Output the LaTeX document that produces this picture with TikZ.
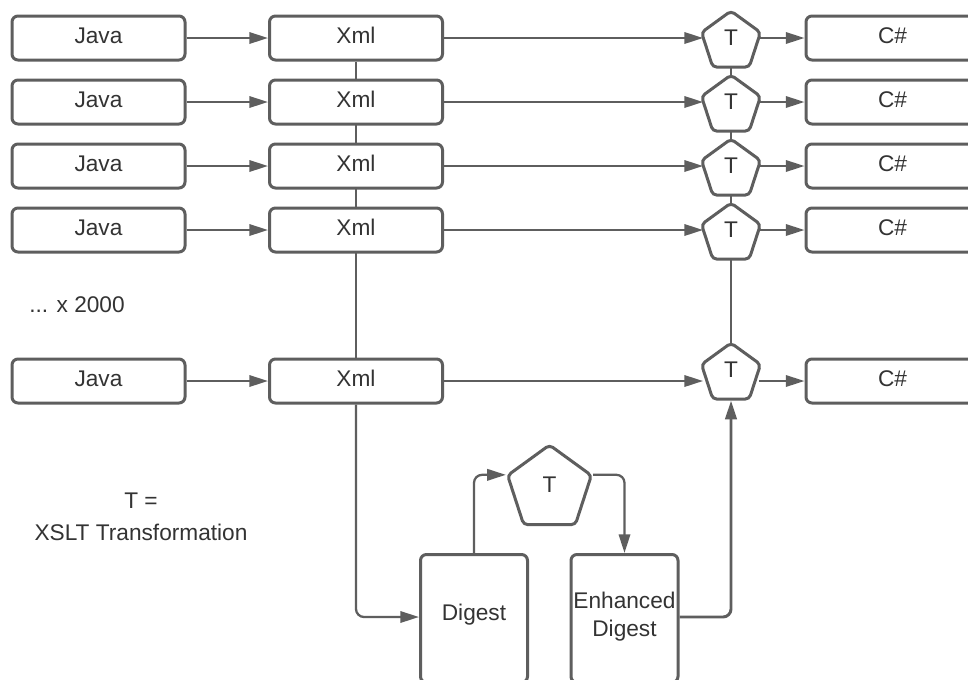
\documentclass[tikz,border=0pt]{standalone}
\usepackage{fontspec}
\setmainfont{Liberation Sans}
\usetikzlibrary{shapes.geometric,arrows.meta,backgrounds}

\definecolor{stroke}{HTML}{5E5E5E}
\definecolor{ink}{HTML}{333333}

\tikzset{
  box/.style={draw=stroke, line width=2.25pt, fill=white, rounded corners=4.5pt,
    minimum width=173*0.75pt, minimum height=44*0.75pt, inner sep=0pt,
    text=ink, font=\fontsize{17}{20}\selectfont, text height=12pt, text depth=4.5pt},
  tall/.style={box, minimum width=107*0.75pt, minimum height=128*0.75pt, anchor=north},
  pent/.style={regular polygon, regular polygon sides=5, draw=stroke, line width=2.25pt,
    fill=white, rounded corners=3pt, inner sep=0pt, text=ink,
    font=\fontsize{17}{20}\selectfont, text height=4.7pt, text depth=0pt},
  pentsm/.style={pent, minimum size=62*0.75pt},
  pentbig/.style={pent, minimum size=88*0.75pt},
  conn/.style={draw=stroke, line width=1.7pt,
    -{Triangle[length=14pt, width=8.5pt]}},
  wire/.style={draw=stroke, line width=1.7pt},
  plain/.style={text=ink, font=\fontsize{17}{20}\selectfont, inner sep=0pt, align=center}
}

\begin{document}
\begin{tikzpicture}[x=0.75pt, y=-0.75pt]
  \useasboundingbox (0,0) rectangle (968,679);
  \clip (0,0) rectangle (968,679);

  % rows of Java -> Xml -> T -> C#
  \foreach \i/\y/\py in {1/38/42, 2/102/106, 3/166/170, 4/230/234, 5/381/374} {
    \node[box] (java\i) at (98.5,\y) {Java};
    \node[box] (xml\i) at (356,\y) {Xml};
    \node[box] (cs\i) at (892.5,\y) {C\#};
    \node[pentsm] (t\i) at (731,\py) {T};
  }

  % T for the digest
  \node[pentbig] (tb) at (549.5,489) {T};

  % digest boxes (their lower part runs past the bottom edge)
  \node[tall] (dig) at (474,553) {};
  \node[tall] (enh) at (624.5,553) {};
  \node[plain] (diglbl) at (474,615) {Digest};
  \node[plain] (enhlbl) at (624.5,617) {Enhanced\\[1pt]Digest};

  % trunk lines behind the boxes
  \begin{scope}[on background layer]
    \fill[white] (0,0) rectangle (968,679);
    \draw[wire] (xml1.south) -- (xml5.north);
    \draw[wire] (t1.center) -- (t5.center);
  \end{scope}
  \draw[conn, rounded corners=6pt] (xml5.south) -- (356,617) -- (dig.west |- 0,617);

  % row connectors
  \foreach \i in {1,...,5} {
    \draw[conn] (java\i.east) -- (xml\i.west);
    \draw[conn] (xml\i.east) -- (xml\i.east -| t\i.west);
    \draw[conn] (cs\i.west -| t\i.east) -- (cs\i.west);
  }

  % digest loop
  \draw[conn, rounded corners=6pt] (dig.north) |- (tb.corner 2);
  \draw[conn, rounded corners=6pt] (tb.corner 5) -| (enh.north);
  \draw[conn, line width=2.2pt, rounded corners=6pt] (enh.east |- 0,617) -| (t5.south);

  % notes
  \node[plain] (more) at (77,305) {... x 2000};
  \node[plain] (legend) at (141,517) {T =\\[4pt]XSLT Transformation};
\end{tikzpicture}
\end{document}
